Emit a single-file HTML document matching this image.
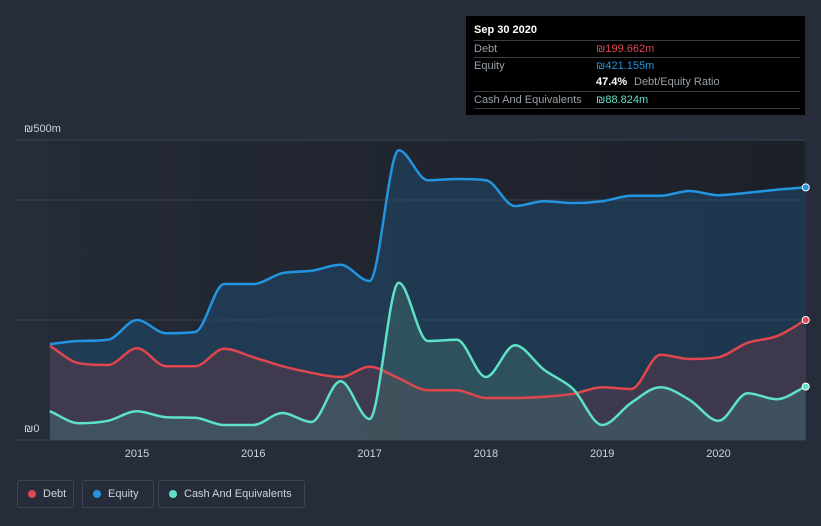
<!DOCTYPE html>
<html><head><meta charset="utf-8"><style>
body{margin:0;background:#262c3a;width:821px;height:526px;overflow:hidden;font-family:"Liberation Sans",sans-serif}
#tip{position:absolute;left:466px;top:16px;width:339px;height:99px;background:#000;color:#9aa0a8;font-size:11px}
#tip .row{position:absolute;left:8px;right:5px;border-top:1px solid #3a3d44;height:17px;line-height:17px}
.leg{position:absolute;top:480px;height:26px;border:1px solid #3f4552;border-radius:3px;color:#cfd3da;font-size:11px;line-height:26px}
.dot{display:inline-block;width:8px;height:8px;border-radius:50%;margin:0 7px 0 10px;vertical-align:-1px}
</style></head><body>
<svg id="chart" width="821" height="526" style="position:absolute;left:0;top:0">
<defs><linearGradient id="bg" x1="0" x2="1"><stop offset="0" stop-color="#242a36"/><stop offset="1" stop-color="#1c2029"/></linearGradient></defs>
<rect x="48" y="140" width="757" height="300" fill="url(#bg)"/>
<g id="grid"></g><g id="areas"></g><g id="lines"></g><g id="xt"></g>
<text x="24" y="132" fill="#cfd3da" font-size="11">₪500m</text>
<text x="24" y="432" fill="#cfd3da" font-size="11">₪0</text>
</svg>
<div id="tip">
<div style="position:absolute;left:8px;top:8px;color:#fff;font-weight:bold;font-size:11px">Sep 30 2020</div>
<div class="row" style="top:24px">Debt<span style="position:absolute;left:122px;color:#e0464e">₪199.662m</span></div>
<div class="row" style="top:41px">Equity<span style="position:absolute;left:122px;color:#2394df">₪421.155m</span></div>
<div class="row" style="top:58px;border:none"><span style="position:absolute;left:122px;color:#fff;font-weight:bold">47.4%</span><span style="position:absolute;left:160px">Debt/Equity Ratio</span></div>
<div class="row" style="top:75px">Cash And Equivalents<span style="position:absolute;left:122px;color:#5ee1c9">₪88.824m</span></div>
<div style="position:absolute;left:8px;right:5px;top:92px;border-top:1px solid #3a3d44"></div>
</div>
<div class="leg" style="left:17px;width:55px"><span class="dot" style="background:#e0464e"></span>Debt</div>
<div class="leg" style="left:82px;width:70px"><span class="dot" style="background:#2394df"></span>Equity</div>
<div class="leg" style="left:158px;width:145px"><span class="dot" style="background:#5ee1c9"></span>Cash And Equivalents</div>
<script>
const times=[2014.25,2014.5,2014.75,2015,2015.25,2015.5,2015.75,2016,2016.25,2016.5,2016.75,2017,2017.25,2017.5,2017.75,2018,2018.25,2018.5,2018.75,2019,2019.25,2019.5,2019.75,2020,2020.25,2020.5,2020.75];
const equity=[160,165,167,200,178,180,260,260,278,282,292,265,483,433,435,433,390,398,395,398,407,407,415,408,412,417,421];
const debt=[157,128,125,153,123,123,152,138,123,112,105,122,103,83,83,70,70,72,77,88,85,142,135,138,162,173,200];
const cash=[48,28,32,48,38,37,25,25,45,30,98,35,262,165,167,105,158,117,85,25,62,88,67,32,78,68,89];
const xTicks=[2015,2016,2017,2018,2019,2020];
const gridVals=[500,400,200,0];
const X=t=>137+(t-2015)*116.3, Y=v=>440-v*0.6;
const NS='http://www.w3.org/2000/svg';
function mk(tag,attrs,parent){const e=document.createElementNS(NS,tag);for(const k in attrs)e.setAttribute(k,attrs[k]);document.getElementById(parent).appendChild(e);return e;}
function path(vals){const p=times.map((t,i)=>[X(t),Y(vals[i])]);const n=p.length;
const s=[];for(let i=0;i<n-1;i++)s.push((p[i+1][1]-p[i][1])/(p[i+1][0]-p[i][0]));
const m=[s[0]];for(let i=1;i<n-1;i++){m.push(s[i-1]*s[i]<=0?0:(s[i-1]+s[i])/2);}m.push(s[n-2]);
for(let i=0;i<n-1;i++){if(s[i]===0){m[i]=0;m[i+1]=0;continue;}const a=m[i]/s[i],b=m[i+1]/s[i],h=a*a+b*b;if(h>9){const t=3/Math.sqrt(h);m[i]=t*a*s[i];m[i+1]=t*b*s[i];}}
let d='M'+p[0][0]+','+p[0][1];
for(let i=0;i<n-1;i++){const dx=(p[i+1][0]-p[i][0])/3;d+=' C'+(p[i][0]+dx)+','+(p[i][1]+m[i]*dx)+' '+(p[i+1][0]-dx)+','+(p[i+1][1]-m[i+1]*dx)+' '+p[i+1][0]+','+p[i+1][1];}
return d;}
gridVals.forEach(v=>{const l=mk('line',{x1:17,x2:805,y1:Y(v),y2:Y(v),stroke:'#3c4352','stroke-width':1},'grid');

});
xTicks.forEach(t=>{const tx=mk('text',{x:X(t),y:457,fill:'#cfd3da','font-size':11,'text-anchor':'middle'},'xt');tx.textContent=t;

});
const series=[[equity,'#2394df','#1f4a6e',0.55,'equity'],[debt,'#e0464e','#5a3a4a',0.55,'debt'],[cash,'#5ee1c9','#3f6a6c',0.5,'cash']];
series.forEach(([v,c,f,o,n])=>{const d=path(v);const x0=X(times[0]),x1=X(times[times.length-1]);
const a=mk('path',{d:d+' L'+x1+',440 L'+x0+',440 Z',fill:f,'fill-opacity':o},'areas');


const l=mk('path',{d:d,fill:'none',stroke:c,'stroke-width':2.5},'lines');


const ci=mk('circle',{cx:x1,cy:Y(v[v.length-1]),r:3.5,fill:c,stroke:'#fff','stroke-width':1},'lines');

});
</script>
</body></html>
